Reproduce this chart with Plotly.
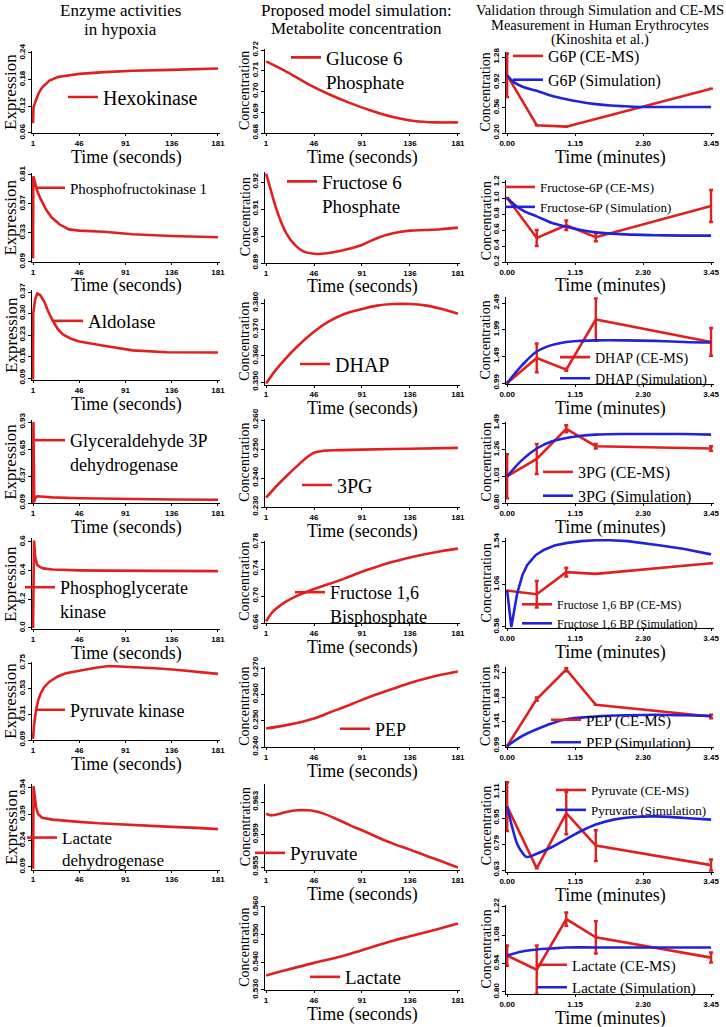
import plotly.graph_objects as go

W, H = 726, 1027
RED = "#e21f1f"
BLUE = "#2222d8"
SERIF = "Times New Roman, Liberation Serif, serif"
SANS = "Arial, Liberation Sans, sans-serif"

# ---------------- data: enzyme activities (time in seconds) ----------------
hk_t = [1, 1.5, 4, 7, 10, 17, 25, 35, 46, 70, 98, 136, 181]
hk_v = [0.082, 0.118, 0.135, 0.152, 0.163, 0.178, 0.186, 0.190, 0.193, 0.197, 0.200, 0.202, 0.205]

pfk_t = [1, 1.3, 5, 8.5, 14, 19, 27, 36, 46, 70, 98, 136, 181]
pfk_v = [0.12, 0.80, 0.68, 0.61, 0.52, 0.46, 0.40, 0.36, 0.35, 0.34, 0.32, 0.305, 0.295]

ald_t = [1, 1.2, 3, 5, 8, 12, 16, 20, 25, 30, 38, 46, 70, 98, 131, 160, 181]
ald_v = [0.085, 0.30, 0.345, 0.365, 0.360, 0.338, 0.305, 0.278, 0.250, 0.232, 0.218, 0.209, 0.195, 0.180, 0.174, 0.173, 0.173]

gap_t = [1, 1.4, 2.2, 3, 5, 10, 20, 46, 91, 136, 181]
gap_v = [0.09, 0.93, 0.10, 0.14, 0.16, 0.155, 0.148, 0.140, 0.131, 0.127, 0.124]

pgk_t = [1, 2, 3, 5, 8, 11, 20, 30, 46, 70, 98, 136, 181]
pgk_v = [0.0, 0.61, 0.50, 0.44, 0.425, 0.416, 0.408, 0.404, 0.402, 0.400, 0.399, 0.398, 0.397]

pk_t = [1, 2, 4, 6, 8.5, 12, 17, 25, 33, 46, 52, 62, 75, 98, 120, 140, 160, 181]
pk_v = [0.10, 0.22, 0.35, 0.43, 0.49, 0.545, 0.59, 0.635, 0.662, 0.685, 0.695, 0.71, 0.724, 0.716, 0.705, 0.692, 0.675, 0.657]

ldh_t = [1, 1.5, 2.5, 4, 6, 10, 20, 33, 46, 65, 98, 131, 160, 181]
ldh_v = [0.08, 0.55, 0.50, 0.43, 0.39, 0.371, 0.36, 0.352, 0.347, 0.339, 0.328, 0.320, 0.313, 0.306]

# ---------------- data: model simulation (time in seconds) ----------------
g6p_t = [1, 20, 40, 60, 80, 100, 120, 140, 160, 181]
g6p_v = [0.7145, 0.7096, 0.7037, 0.6987, 0.6944, 0.6907, 0.6877, 0.6858, 0.6851, 0.6851]

f6p_t = [1, 5, 10, 15, 20, 28, 36, 46, 60, 75, 91, 105, 120, 136, 150, 165, 181]
f6p_v = [0.9231, 0.9176, 0.9108, 0.9053, 0.9010, 0.8967, 0.8943, 0.8934, 0.8937, 0.8949,
         0.8967, 0.8992, 0.9010, 0.9020, 0.9022, 0.9025, 0.9031]

dhap_t = [1, 10, 20, 30, 46, 60, 75, 91, 105, 120, 136, 150, 165, 181]
dhap_v = [0.3494, 0.3545, 0.3592, 0.3634, 0.3691, 0.3730, 0.3759, 0.3777, 0.3790, 0.3796,
          0.3796, 0.3791, 0.3778, 0.3759]

pg3_t = [1, 10, 20, 30, 40, 46, 55, 70, 91, 136, 181]
pg3_v = [0.2332, 0.2369, 0.2406, 0.2441, 0.2473, 0.2487, 0.2494, 0.2496, 0.2498, 0.2501, 0.2504]

fbp_t = [1, 5, 10, 20, 30, 46, 60, 75, 91, 105, 120, 136, 150, 165, 181]
fbp_v = [0.6625, 0.6723, 0.6806, 0.6919, 0.7002, 0.7105, 0.7178, 0.7261, 0.7359, 0.7433,
         0.7506, 0.7570, 0.7619, 0.7663, 0.7702]

pep_t = [1, 20, 35, 46, 60, 75, 91, 105, 120, 136, 150, 165, 181]
pep_v = [0.2470, 0.2483, 0.2496, 0.2508, 0.2530, 0.2553, 0.2579, 0.2600, 0.2621, 0.2643,
         0.2659, 0.2674, 0.2687]

pyr_t = [1, 5, 10, 20, 30, 40, 46, 55, 65, 80, 91, 105, 120, 136, 150, 165, 181]
pyr_v = [0.96157, 0.96136, 0.96144, 0.96177, 0.96198, 0.96198, 0.96190, 0.96157, 0.96103,
         0.96013, 0.95952, 0.95870, 0.95788, 0.95714, 0.95644, 0.95574, 0.95493]

lac_t = [1, 20, 46, 70, 91, 120, 136, 160, 181]
lac_v = [0.5352, 0.5372, 0.5398, 0.5420, 0.5444, 0.5478, 0.5494, 0.5518, 0.5540]

# ---------------- data: validation (time in minutes) ----------------
ce_t = [0, 0.5, 1.0, 1.5, 3.45]

g6p_ce_t = [0, 0.5, 1.0, 3.45]
g6p_ce_v = [1.02, 0.31, 0.29, 0.83]
g6p_ce_e = [0.31, None, None, None]
g6p_sim_t = [0, 0.1, 0.25, 0.5, 0.75, 1.0, 1.25, 1.5, 1.75, 2.0, 2.3, 2.75, 3.45]
g6p_sim_v = [1.02, 0.93, 0.86, 0.80, 0.73, 0.68, 0.64, 0.61, 0.59, 0.58, 0.57, 0.57, 0.57]

f6p_ce_v = [1.00, 0.50, 0.66, 0.51, 0.90]
f6p_ce_e = [None, 0.10, 0.06, 0.05, 0.20]
f6p_sim_t = [0, 0.15, 0.3, 0.5, 0.75, 1.0, 1.25, 1.5, 2.0, 2.5, 3.0, 3.45]
f6p_sim_v = [1.0, 0.90, 0.83, 0.77, 0.69, 0.64, 0.60, 0.57, 0.545, 0.535, 0.53, 0.53]

dhap_ce_v = [0.99, 1.46, 1.24, 2.18, 1.76]
dhap_ce_e = [None, 0.27, 0.02, 0.40, 0.26]
dhap_sim_t = [0, 0.25, 0.5, 0.75, 1.0, 1.25, 1.5, 2.0, 2.5, 3.0, 3.45]
dhap_sim_v = [0.99, 1.32, 1.58, 1.70, 1.76, 1.78, 1.79, 1.79, 1.78, 1.76, 1.75]

pg3_ce_v = [1.03, 1.18, 1.44, 1.29, 1.27]
pg3_ce_e = [0.19, 0.13, 0.03, 0.02, 0.02]
pg3_sim_t = [0, 0.25, 0.5, 0.75, 1.0, 1.25, 1.5, 2.0, 2.5, 3.0, 3.45]
pg3_sim_v = [1.03, 1.17, 1.27, 1.33, 1.36, 1.38, 1.39, 1.395, 1.395, 1.395, 1.39]

fbp_ce_v = [0.99, 0.95, 1.20, 1.18, 1.30]
fbp_ce_e = [None, 0.15, 0.05, None, None]
fbp_sim_t = [0, 0.07, 0.17, 0.26, 0.34, 0.48, 0.62, 0.8, 1.02, 1.25, 1.5, 1.75, 2.04, 2.3, 2.6, 3.0, 3.45]
fbp_sim_v = [0.99, 0.58, 0.96, 1.17, 1.28, 1.39, 1.45, 1.50, 1.53, 1.55, 1.56, 1.56, 1.55, 1.53, 1.50, 1.46, 1.40]

pep_ce_v = [0.99, 1.80, 2.31, 1.70, 1.50]
pep_ce_e = [None, 0.03, 0.03, None, 0.03]
pep_sim_t = [0, 0.25, 0.5, 0.75, 1.0, 1.25, 1.5, 2.0, 2.5, 3.0, 3.45]
pep_sim_v = [0.99, 1.16, 1.28, 1.38, 1.45, 1.48, 1.50, 1.52, 1.53, 1.52, 1.51]

pyr_ce_v = [1.02, 0.64, 0.98, 0.78, 0.66]
pyr_ce_e = [0.15, None, 0.13, 0.095, 0.035]
pyr_sim_t = [0, 0.08, 0.17, 0.25, 0.33, 0.5, 0.75, 1.0, 1.25, 1.5, 1.8, 2.1, 2.5, 3.0, 3.45]
pyr_sim_v = [1.02, 0.90, 0.79, 0.74, 0.71, 0.73, 0.77, 0.82, 0.87, 0.91, 0.94, 0.955, 0.96, 0.95, 0.94]

lac_ce_v = [0.98, 0.91, 1.16, 1.07, 0.97]
lac_ce_e = [0.05, 0.12, 0.033, 0.08, 0.025]
lac_sim_t = [0, 0.25, 0.5, 0.75, 1.0, 1.5, 2.0, 2.5, 3.0, 3.45]
lac_sim_v = [0.98, 1.00, 1.01, 1.015, 1.02, 1.02, 1.02, 1.02, 1.02, 1.02]

# ---------------- tick labels ----------------
sec_ticks = [1, 46, 91, 136, 181]
min_ticks = [0, 1.15, 2.30, 3.45]
min_labels = ["0.00", "1.15", "2.30", "3.45"]

column_titles = [
    ["Enzyme activities", "in hypoxia"],
    ["Proposed model simulation:", "Metabolite concentration"],
    ["Validation through Simulation and CE-MS", "Measurement in Human Erythrocytes", "(Kinoshita et al.)"],
]


def fx(px):
    return px / W


def fy(py):
    return 1 - py / H


# ---------------- panel layout (pixel geometry) ----------------
COLX = {1: (32, 220), 2: (265, 460), 3: (506, 714)}
XRANGE = {1: [0, 183], 2: [0, 183], 3: [-0.02, 3.5]}
YTITLE_X = {1: 11, 2: 245, 3: 486}
YTITLE = {1: "Expression", 2: "Concentration", 3: "Concentration"}
YTITLE_SIZE = {1: 17, 2: 14, 3: 14}
XTITLE = {1: "Time (seconds)", 2: "Time (seconds)", 3: "Time (minutes)"}


def sim(t, v, name, shape="linear"):
    return dict(t=t, v=v, e=None, color=RED, name=name, shape=shape)


panels = [
    # column 1
    dict(col=1, series=[sim(hk_t, hk_v, "Hexokinase")],
         yt=["0.06", "0.12", "0.18", "0.24"], pt=53, pb=133, lo=0.06, hi=0.245,
         leg=(103, 97, 20), time=True),
    dict(col=1, series=[sim(pfk_t, pfk_v, "Phosphofructokinase 1")],
         yt=["0.09", "0.33", "0.57", "0.81"], pt=175, pb=262, lo=0.09, hi=0.825,
         leg=(70, 188, 15), time=True),
    dict(col=1, series=[sim(ald_t, ald_v, "Aldolase")],
         yt=["0.09", "0.16", "0.23", "0.30", "0.37"], pt=292, pb=378, lo=0.083, hi=0.377,
         leg=(88, 321, 19), time=True),
    dict(col=1, series=[sim(gap_t, gap_v, "Glyceraldehyde 3P<br>dehydrogenase")],
         yt=["0.09", "0.37", "0.65", "0.93"], pt=422, pb=503, lo=0.085, hi=0.95,
         leg=(70, 452, 18), time=True),
    dict(col=1, series=[sim(pgk_t, pgk_v, "Phosphoglycerate<br>kinase")],
         yt=["0.0", "0.2", "0.4", "0.6"], pt=542, pb=628, lo=-0.01, hi=0.625,
         leg=(60, 599, 18), time=True),
    dict(col=1, series=[sim(pk_t, pk_v, "Pyruvate kinase")],
         yt=["0.09", "0.31", "0.53", "0.75"], pt=663, pb=740, lo=0.09, hi=0.76,
         leg=(70, 710, 18), time=True),
    dict(col=1, series=[sim(ldh_t, ldh_v, "Lactate<br>dehydrogenase")],
         yt=["0.09", "0.24", "0.39", "0.54"], pt=788, pb=867, lo=0.075, hi=0.56,
         leg=(62, 849, 17), time=False),
    # column 2
    dict(col=2, series=[sim(g6p_t, g6p_v, "Glucose 6<br>Phosphate", "spline")],
         yt=["0.68", "0.69", "0.70", "0.71", "0.72"], pt=50, pb=133, lo=0.68, hi=0.7205,
         leg=(326, 70, 19), time=True),
    dict(col=2, series=[sim(f6p_t, f6p_v, "Fructose 6<br>Phosphate", "spline")],
         yt=["0.89", "0.90", "0.91", "0.92"], pt=182, pb=263, lo=0.89, hi=0.9238,
         leg=(322, 194, 19), time=True),
    dict(col=2, series=[sim(dhap_t, dhap_v, "DHAP", "spline")],
         yt=["0.350", "0.360", "0.370", "0.380"], pt=303, pb=382, lo=0.349, hi=0.3815,
         leg=(335, 364, 20), time=True),
    dict(col=2, series=[sim(pg3_t, pg3_v, "3PG", "spline")],
         yt=["0.230", "0.240", "0.250", "0.260"], pt=420, pb=507, lo=0.23, hi=0.2605,
         leg=(337, 485, 20), time=True),
    dict(col=2, series=[sim(fbp_t, fbp_v, "Fructose 1,6<br>Bisphosphate", "spline")],
         yt=["0.66", "0.70", "0.74", "0.78"], pt=542, pb=623, lo=0.66, hi=0.782,
         leg=(330, 604, 18), time=True),
    dict(col=2, series=[sim(pep_t, pep_v, "PEP", "spline")],
         yt=["0.240", "0.250", "0.260", "0.270"], pt=668, pb=747, lo=0.24, hi=0.2705,
         leg=(375, 729, 18), time=True),
    dict(col=2, series=[sim(pyr_t, pyr_v, "Pyruvate", "spline")],
         yt=["0.955", "0.959", "0.963"], pt=802, pb=867, lo=0.9546, hi=0.9652,
         leg=(290, 853, 19), time=True),
    dict(col=2, series=[sim(lac_t, lac_v, "Lactate", "spline")],
         yt=["0.530", "0.540", "0.550", "0.560"], pt=907, pb=990, lo=0.53, hi=0.5605,
         leg=(345, 977, 19), time=True),
]


def val(ce_x, ce_v, ce_e, s_t, s_v, label, sim_shape="spline"):
    return [
        dict(t=ce_x, v=ce_v, e=ce_e, color=RED, name=label + " (CE-MS)", shape="linear"),
        dict(t=s_t, v=s_v, e=None, color=BLUE, name=label + " (Simulation)", shape=sim_shape),
    ]


panels += [
    dict(col=3, series=val(g6p_ce_t, g6p_ce_v, g6p_ce_e, g6p_sim_t, g6p_sim_v, "G6P"),
         yt=["0.20", "0.56", "0.92", "1.28"], pt=57, pb=133, lo=0.2, hi=1.35,
         leg=(548, 68, 16), time=True),
    dict(col=3, series=val(ce_t, f6p_ce_v, f6p_ce_e, f6p_sim_t, f6p_sim_v, "Fructose-6P"),
         yt=["0.2", "0.4", "0.6", "0.8", "1.0", "1.2"], pt=182, pb=262, lo=0.2, hi=1.22,
         leg=(540, 197, 13), time=True),
    dict(col=3, series=val(ce_t, dhap_ce_v, dhap_ce_e, dhap_sim_t, dhap_sim_v, "DHAP"),
         yt=["0.99", "1.49", "1.99", "2.49"], pt=303, pb=383, lo=0.97, hi=2.6,
         leg=(595, 368, 14), time=True),
    dict(col=3, series=val(ce_t, pg3_ce_v, pg3_ce_e, pg3_sim_t, pg3_sim_v, "3PG"),
         yt=["0.80", "1.03", "1.26", "1.49"], pt=423, pb=503, lo=0.8, hi=1.5,
         leg=(578, 484, 16), time=True),
    dict(col=3, series=val(ce_t, fbp_ce_v, fbp_ce_e, fbp_sim_t, fbp_sim_v, "Fructose 1,6 BP", "linear"),
         yt=["0.58", "1.06", "1.54"], pt=542, pb=627, lo=0.565, hi=1.58,
         leg=(557, 614, 12), time=True),
    dict(col=3, series=val(ce_t, pep_ce_v, pep_ce_e, pep_sim_t, pep_sim_v, "PEP"),
         yt=["0.99", "1.41", "1.83", "2.25"], pt=673, pb=746, lo=0.97, hi=2.36,
         leg=(586, 731, 15), time=False),
    dict(col=3, series=val(ce_t, pyr_ce_v, pyr_ce_e, pyr_sim_t, pyr_sim_v, "Pyruvate"),
         yt=["0.63", "0.79", "0.95", "1.11"], pt=792, pb=870, lo=0.62, hi=1.18,
         leg=(591, 800, 13), time=True),
    dict(col=3, series=val(ce_t, lac_ce_v, lac_ce_e, lac_sim_t, lac_sim_v, "Lactate"),
         yt=["0.80", "0.94", "1.08", "1.22"], pt=907, pb=992, lo=0.79, hi=1.23,
         leg=(572, 976, 15), time=True),
]

fig = go.Figure()
layout = dict(
    width=W, height=H, margin=dict(l=0, r=0, t=0, b=0, pad=0), autosize=False,
    paper_bgcolor="white", plot_bgcolor="white", hovermode=False,
)
annotations = []

for i, p in enumerate(panels):
    n = i + 1
    sx = "" if n == 1 else str(n)
    col = p["col"]
    x0, x1 = COLX[col]
    yvals = [float(s) for s in p["yt"]]
    tmin, tmax = yvals[0], yvals[-1]
    ppu = (p["pb"] - p["pt"]) / (tmax - tmin)
    top = p["pt"] - (p["hi"] - tmax) * ppu
    bot = p["pb"] + (tmin - p["lo"]) * ppu
    leg_key = "legend" + sx

    for s in p["series"]:
        tr = dict(x=s["t"], y=s["v"], mode="lines", name=s["name"],
                  line=dict(color=s["color"], width=2.6, shape=s["shape"]),
                  xaxis="x" + sx, yaxis="y" + sx, legend=leg_key, showlegend=True)
        if s["e"] is not None:
            tr["error_y"] = dict(type="data", array=s["e"], visible=True,
                                 color=s["color"], thickness=2.4, width=2)
        fig.add_trace(go.Scatter(**tr))

    if col == 3:
        xt, xtt = min_ticks, min_labels
    else:
        xt, xtt = sec_ticks, [str(v) for v in sec_ticks]

    layout["xaxis" + sx] = dict(
        domain=[fx(x0), fx(x1)], range=XRANGE[col], anchor="y" + sx, automargin=False,
        tickvals=xt, ticktext=xtt, showline=True, linecolor="black", linewidth=1,
        ticks="outside", ticklen=2, tickcolor="black", showgrid=False, zeroline=False,
        tickfont=dict(family=SANS, size=8, color="black", weight="bold"),
    )
    layout["yaxis" + sx] = dict(
        domain=[fy(bot), fy(top)], range=[p["lo"], p["hi"]], anchor="x" + sx,
        automargin=False,
        tickvals=yvals, ticktext=p["yt"], tickangle=-90, showline=True, linecolor="black",
        linewidth=1, ticks="outside", ticklen=3, tickcolor="black", showgrid=False,
        zeroline=False, tickfont=dict(family=SANS, size=8, color="black", weight="bold"),
    )
    lx, ly, lfs = p["leg"]
    layout[leg_key] = dict(
        x=fx(lx - 40), y=fy(ly), xanchor="left", yanchor="middle",
        xref="paper", yref="paper", bgcolor="rgba(0,0,0,0)", borderwidth=0,
        font=dict(family=SERIF, size=lfs, color="black"), tracegroupgap=0,
        valign="top", itemclick=False, itemdoubleclick=False,
    )
    # axis titles
    annotations.append(dict(
        text=YTITLE[col], x=fx(YTITLE_X[col]), y=fy((top + bot) / 2),
        xref="paper", yref="paper", textangle=-90, showarrow=False,
        xanchor="center", yanchor="middle",
        font=dict(family=SERIF, size=YTITLE_SIZE[col], color="black")))
    if p["time"]:
        annotations.append(dict(
            text=XTITLE[col], x=fx((x0 + x1) / 2), y=fy(bot + 24),
            xref="paper", yref="paper", showarrow=False, xanchor="center", yanchor="middle",
            font=dict(family=SERIF, size=18, color="black")))

# column headers
head_cx = [120, 356, 600]
head_y = [[11, 30], [11, 29], [10, 25, 40]]
head_fs = [17, 17, 14.5]
for c in range(3):
    for j, line in enumerate(column_titles[c]):
        annotations.append(dict(
            text=line, x=fx(head_cx[c]), y=fy(head_y[c][j]), xref="paper", yref="paper",
            showarrow=False, xanchor="center", yanchor="middle",
            font=dict(family=SERIF, size=head_fs[c], color="black")))

layout["annotations"] = annotations
fig.update_layout(**layout)
# let the figure sit flush with the window's top-left corner (no default body margin)
fig.write_html("out.html", config={"displayModeBar": False, "staticPlot": True},
               post_script="document.body.style.margin='0px';document.body.style.overflow='hidden';")
